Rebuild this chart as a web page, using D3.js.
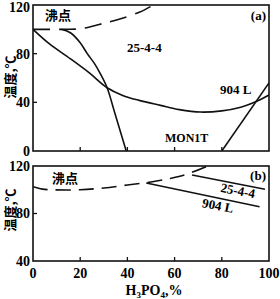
<!DOCTYPE html>
<html>
<head>
<meta charset="utf-8">
<script src="https://cdn.jsdelivr.net/npm/d3@7"></script>
<style>
body { margin: 0; background: #fff; }
svg { display: block; }
.num { font: bold 14px "Liberation Serif", serif; }
.cjk { font: bold 13px "Noto Sans CJK SC", sans-serif; }
</style>
</head>
<body>
<svg id="chart" width="280" height="299"></svg>
<script>
// ---- data (x = H3PO4 %, y = temperature C) ----
const xTicks = [0, 20, 40, 60, 80, 100];
const yTicksA = [0, 40, 80, 120];
const yTicksB = [40, 80, 120];

// panel (a)
const boilA = [[0,100],[14,100],[20,100.5],[28,104],[35,107.5],[45,114],[51,120]];
const alloy2544A = [[12,100],[16,97],[20,89],[23,80],[26,72],[28.4,64],[31.4,52],[34.7,31],[37.5,13],[39.5,0]];
const alloy904A = [[0,100],[7,88],[15.7,76],[24,64],[31.4,52],[38,45.7],[45,41.6],[54,37.5],[62,34],[71,32],[80,33],[88,36],[96,42],[100,46]];
const mon1tA = [[80,0],[100,56]];

// panel (b)
const boilB = [[0,102.5],[4,100.5],[8,100],[20,100],[30,101.5],[40,104],[50,106.5],[58,109.5],[65,113],[74,120]];
const alloy2544B = [[67.4,112.4],[98.3,100.4]];
const alloy904B = [[48,105.7],[96,85.7]];

const svg = d3.select("#chart");
const left = 33, right = 269;

const x = d3.scaleLinear().domain([0, 100]).range([left, right]);
const yA = d3.scaleLinear().domain([0, 120]).range([151, 5]);
const yB = d3.scaleLinear().domain([40, 120]).range([261, 166]);

function panel(y, id) {
  const g = svg.append("g");
  g.append("clipPath").attr("id", id)
    .append("rect")
    .attr("x", left).attr("y", y.range()[1])
    .attr("width", right - left).attr("height", y.range()[0] - y.range()[1]);
  const plot = g.append("g").attr("clip-path", "url(#" + id + ")");
  // frame
  g.append("rect")
    .attr("x", left).attr("y", y.range()[1])
    .attr("width", right - left).attr("height", y.range()[0] - y.range()[1])
    .attr("fill", "none").attr("stroke", "#111").attr("stroke-width", 1.6);
  // inner ticks on the bottom edge
  g.selectAll(".xt").data(xTicks.slice(1, -1)).join("line")
    .attr("x1", d => x(d)).attr("x2", d => x(d))
    .attr("y1", y.range()[0]).attr("y2", y.range()[0] - 4)
    .attr("stroke", "#111").attr("stroke-width", 1.3);
  return { g, plot };
}

function yLabels(g, y, ticks) {
  g.selectAll(".yl").data(ticks).join("text")
    .attr("class", "num")
    .attr("x", left - 3).attr("y", d => Math.max(y(d), 7))
    .attr("dy", "0.35em").attr("text-anchor", "end")
    .text(d => d);
  g.selectAll(".ytk").data(ticks.slice(1, -1)).join("line")
    .attr("x1", left).attr("x2", left + 4)
    .attr("y1", d => y(d)).attr("y2", d => y(d))
    .attr("stroke", "#111").attr("stroke-width", 1.3);
}

function curve(plot, data, y, dash, type) {
  const line = d3.line()
    .x(d => x(d[0])).y(d => y(d[1]))
    .curve(type || d3.curveCatmullRom.alpha(0.5));
  plot.append("path")
    .datum(data)
    .attr("d", line)
    .attr("fill", "none")
    .attr("stroke", "#111")
    .attr("stroke-width", 1.6)
    .attr("stroke-dasharray", dash || null);
}

// ---- panel (a) ----
const A = panel(yA, "clipA");
yLabels(A.g, yA, yTicksA);

curve(A.plot, boilA, yA, "17,9");
curve(A.plot, alloy2544A, yA);
curve(A.plot, alloy904A, yA);
curve(A.plot, mon1tA, yA, null, d3.curveLinear);

A.g.append("text").attr("class", "cjk").attr("x", 45).attr("y", 20).text("沸点");
A.g.append("text").attr("class", "num").attr("x", 266).attr("y", 20)
  .attr("text-anchor", "end").style("font-size", "13px").text("(a)");
A.g.append("text").attr("class", "num").attr("x", 127).attr("y", 52)
  .style("font-size", "13px").text("25-4-4");
A.g.append("text").attr("class", "num").attr("x", 220).attr("y", 94)
  .style("font-size", "13px").text("904 L");
A.g.append("text").attr("class", "num").attr("x", 165).attr("y", 142)
  .style("font-size", "12px").text("MON1T");
A.g.append("text").attr("class", "cjk")
  .attr("transform", "translate(15,77) rotate(-90)")
  .attr("text-anchor", "middle").text("温度,℃");

// ---- panel (b) ----
const B = panel(yB, "clipB");
yLabels(B.g, yB, yTicksB);
B.g.selectAll(".xl").data(xTicks).join("text")
  .attr("class", "num")
  .attr("x", d => x(d)).attr("y", 278)
  .attr("text-anchor", "middle")
  .text(d => d);

curve(B.plot, boilB, yB, "15,8");
curve(B.plot, alloy2544B, yB, null, d3.curveLinear);
curve(B.plot, alloy904B, yB, null, d3.curveLinear);

B.g.append("text").attr("class", "cjk").attr("x", 52).attr("y", 183).text("沸点");
B.g.append("text").attr("class", "num").attr("x", 266).attr("y", 180)
  .attr("text-anchor", "end").style("font-size", "13px").text("(b)");
B.g.append("text").attr("class", "num").style("font-size", "13px")
  .attr("transform", "translate(237,195) rotate(11)")
  .attr("text-anchor", "middle").text("25-4-4");
B.g.append("text").attr("class", "num").style("font-size", "13px")
  .attr("transform", "translate(217,210) rotate(11)")
  .attr("text-anchor", "middle").text("904 L");
B.g.append("text").attr("class", "cjk")
  .attr("transform", "translate(15,210) rotate(-90)")
  .attr("text-anchor", "middle").text("温度,℃");

// x title H3PO4,%
const xt = svg.append("text").attr("class", "num")
  .attr("x", 154).attr("y", 295).attr("text-anchor", "middle");
xt.append("tspan").text("H");
xt.append("tspan").attr("dy", 3).style("font-size", "9px").text("3");
xt.append("tspan").attr("dy", -3).text("PO");
xt.append("tspan").attr("dy", 3).style("font-size", "9px").text("4");
xt.append("tspan").attr("dy", -3).text(",%");
</script>
</body>
</html>
